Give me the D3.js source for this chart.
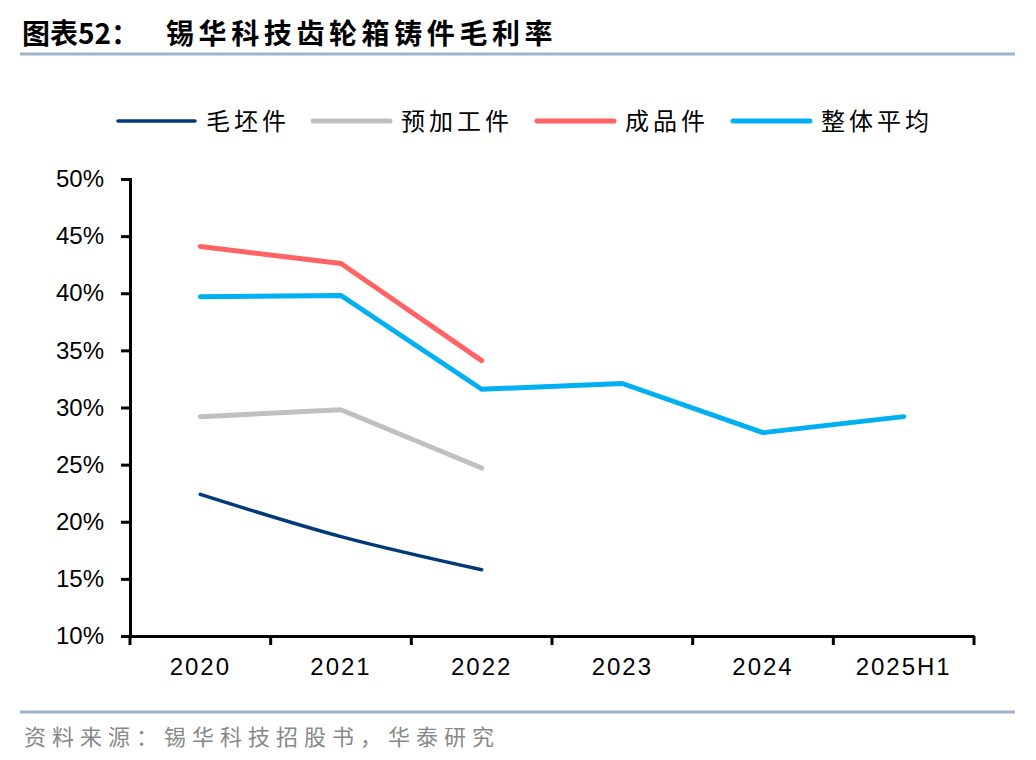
<!DOCTYPE html>
<html>
<head>
<meta charset="utf-8">
<script src="https://cdn.jsdelivr.net/npm/d3@7"></script>
<style>
  body { margin: 0; background: #fff; }
  text { font-family: "Liberation Sans", Arial, sans-serif; }
  .cjk { font-family: "Noto Sans CJK SC", sans-serif; }
</style>
</head>
<body>
<div id="chart"></div>
<script>
var categories = ["2020", "2021", "2022", "2023", "2024", "2025H1"];
var maopi = [22.4, 18.7, 15.8, null, null, null];
var yujiagong = [29.2, 29.8, 24.7, null, null, null];
var chengpin = [44.1, 42.6, 34.1, null, null, null];
var zhengti = [39.7, 39.8, 31.6, 32.1, 27.8, 29.2];
var yTicks = [10, 15, 20, 25, 30, 35, 40, 45, 50];

var series = [
    { name: "毛坯件", values: maopi, color: "#003a78", width: 3.5, smooth: true },
    { name: "预加工件", values: yujiagong, color: "#c0c0c0", width: 5 },
    { name: "成品件", values: chengpin, color: "#ff6464", width: 5 },
    { name: "整体平均", values: zhengti, color: "#00b0f0", width: 5 }
];

var W = 1036, H = 760;
var margin = { top: 179, left: 130, right: 62, bottom: 124 };
var width = W - margin.left - margin.right,
    height = H - margin.top - margin.bottom;

var svg = d3.select("#chart").append("svg")
    .attr("width", W)
    .attr("height", H);

// title
svg.append("text")
    .attr("class", "cjk")
    .attr("x", 22)
    .attr("y", 44)
    .attr("font-size", "28px")
    .attr("font-weight", "bold")
    .attr("fill", "#000")
    .text("图表52：");
svg.append("text")
    .attr("class", "cjk")
    .attr("x", 166)
    .attr("y", 44)
    .attr("font-size", "28px")
    .attr("font-weight", "bold")
    .attr("letter-spacing", "4.6px")
    .attr("fill", "#000")
    .text("锡华科技齿轮箱铸件毛利率");

svg.append("line")
    .attr("x1", 20).attr("x2", 1015)
    .attr("y1", 54).attr("y2", 54)
    .attr("stroke", "#9db4cc")
    .attr("stroke-width", 3);

svg.append("line")
    .attr("x1", 20).attr("x2", 1015)
    .attr("y1", 712).attr("y2", 712)
    .attr("stroke", "#9db4cc")
    .attr("stroke-width", 3);

svg.append("text")
    .attr("class", "cjk")
    .attr("x", 24)
    .attr("y", 745)
    .attr("font-size", "22px")
    .attr("letter-spacing", "6px")
    .attr("fill", "#888")
    .text("资料来源：锡华科技招股书，华泰研究");

var g = svg.append("g")
    .attr("transform", "translate(" + margin.left + "," + margin.top + ")");

var xscale = d3.scaleBand()
    .domain(categories)
    .range([0, width]);

var yscale = d3.scaleLinear()
    .domain([10, 50])
    .range([height, 0]);

var yAxis = g.append("g")
    .call(d3.axisLeft(yscale).tickValues(yTicks).tickSize(9).tickPadding(17)
        .tickFormat(function(d) { return d + "%"; }));
yAxis.select(".domain").attr("stroke", "#000").attr("stroke-width", 3);
yAxis.selectAll(".tick line").attr("stroke", "#000").attr("stroke-width", 3);
yAxis.selectAll(".tick text")
    .attr("font-size", "24px")
    .attr("font-family", "Liberation Sans, Arial, sans-serif")
    .attr("fill", "#000");

var xAxis = g.append("g")
    .attr("transform", "translate(0," + height + ")")
    .call(d3.axisBottom(xscale).tickSize(0).tickPadding(22));
xAxis.select(".domain").attr("stroke", "#000").attr("stroke-width", 3);
xAxis.selectAll(".tick text")
    .attr("font-size", "24px")
    .attr("letter-spacing", "2px")
    .attr("font-family", "Liberation Sans, Arial, sans-serif")
    .attr("fill", "#000");

// category boundary ticks
var bounds = categories.map(function(d) { return xscale(d); }).concat([width]);
g.selectAll(".btick")
    .data(bounds)
    .enter().append("line")
    .attr("class", "btick")
    .attr("x1", function(d) { return d; })
    .attr("x2", function(d) { return d; })
    .attr("y1", height)
    .attr("y2", height + 9)
    .attr("stroke", "#000")
    .attr("stroke-width", 3);

series.forEach(function(s) {
    var pts = [];
    s.values.forEach(function(v, i) {
        if (v != null) pts.push([xscale(categories[i]) + xscale.bandwidth() / 2, yscale(v)]);
    });
    var line = d3.line().curve(s.smooth ? d3.curveCatmullRom : d3.curveLinear);
    g.append("path")
        .attr("d", line(pts))
        .attr("fill", "none")
        .attr("stroke", s.color)
        .attr("stroke-width", s.width)
        .attr("stroke-linecap", "round")
        .attr("stroke-linejoin", "round");
});

// legend
var legendX = [118, 313, 537, 733];
var legend = svg.selectAll(".legend")
    .data(series)
    .enter().append("g")
    .attr("class", "legend")
    .attr("transform", function(d, i) { return "translate(" + legendX[i] + ",121)"; });
legend.append("line")
    .attr("x1", 0).attr("x2", 77)
    .attr("stroke", function(d) { return d.color; })
    .attr("stroke-width", function(d) { return d.width; })
    .attr("stroke-linecap", "round");
legend.append("text")
    .attr("class", "cjk")
    .attr("x", 88)
    .attr("y", 9)
    .attr("font-size", "24px")
    .attr("letter-spacing", "4px")
    .attr("fill", "#000")
    .text(function(d) { return d.name; });
</script>
</body>
</html>
